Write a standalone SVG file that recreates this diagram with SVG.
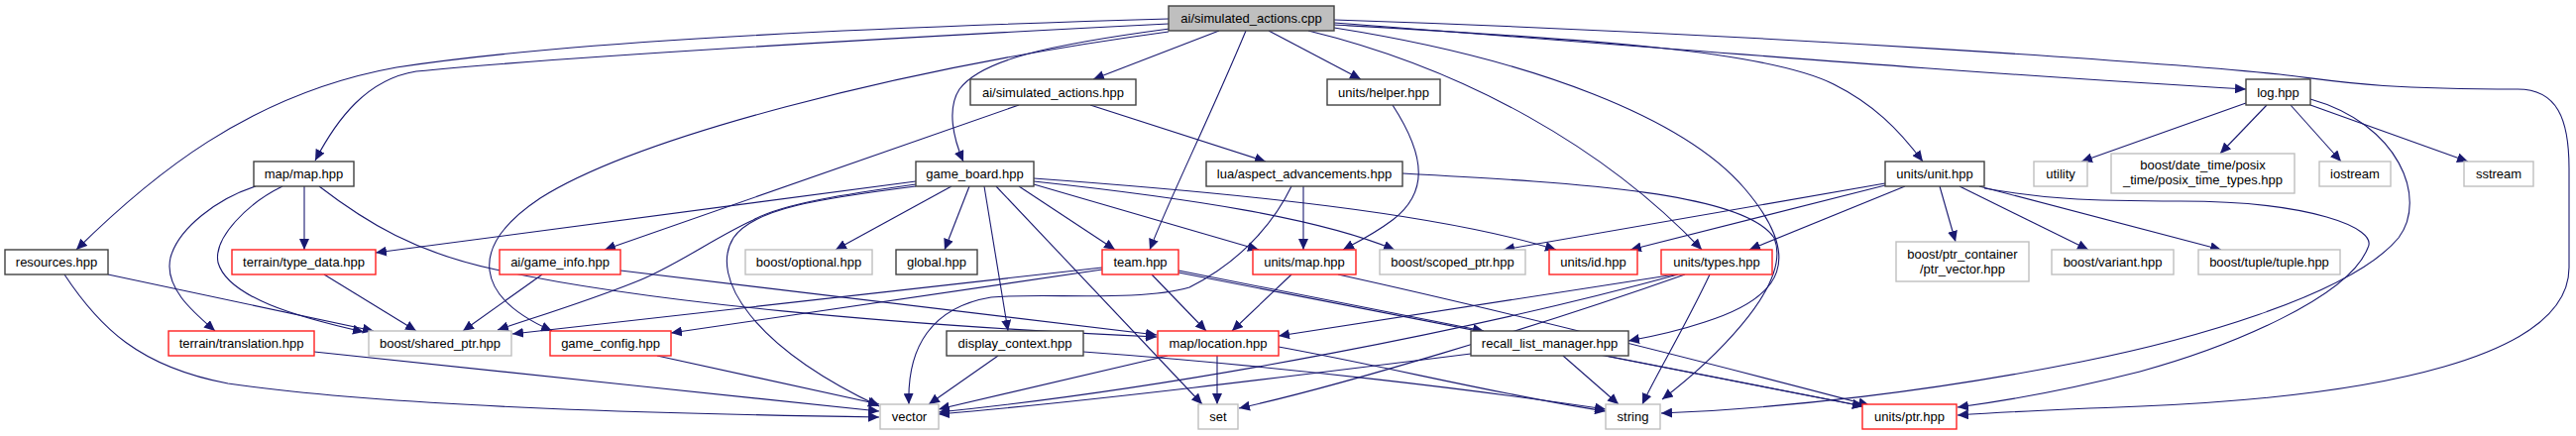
<svg xmlns="http://www.w3.org/2000/svg" width="2599" height="440" viewBox="0 0 2599 440">
<defs>
<marker id="ah" markerUnits="userSpaceOnUse" markerWidth="12" markerHeight="10" refX="11" refY="5" orient="auto">
<path d="M0,0 L11,5 L0,10 z" fill="#191970"/>
</marker>
<style>
.n rect{fill:#fff;stroke-width:1.4}
.b rect{stroke:#404040}
.r rect{stroke:#ff2020}
.g rect{stroke:#bfbfbf}
.n text{font-family:"Liberation Sans",Arial,sans-serif;font-size:13px;fill:#000;text-anchor:middle}
#edges path{fill:none;stroke:#191970;stroke-width:1.1;marker-end:url(#ah)}
</style>
</defs>
<rect width="2599" height="440" fill="#fff"/>
<g id="edges">
<path d="M1230,31 L1103,80"/>
<path d="M1180,29 C1060,45 990,60 968,90 C955,110 962,140 972,163"/>
<path d="M1179,24 C900,38 560,58 420,72 C370,80 340,120 318,162"/>
<path d="M1179,19 C800,30 550,45 400,68 C250,95 150,180 77,252"/>
<path d="M1179,32 C900,70 640,140 545,200 C470,250 480,300 557,334"/>
<path d="M1280,31 L1373,80"/>
<path d="M1257,31 C1220,120 1180,200 1160,252"/>
<path d="M1320,31 C1480,70 1620,150 1717,252"/>
<path d="M1346,23 C1700,50 2000,75 2266,90"/>
<path d="M1346,25 C1600,40 1780,50 1850,85 C1890,105 1915,130 1940,163"/>
<path d="M1346,28 C1550,60 1700,120 1760,190 C1820,260 1800,300 1720,325 C1690,335 1665,340 1643,344"/>
<path d="M1346,20 C1800,35 2200,65 2300,75 C2360,82 2390,90 2540,90 C2580,90 2592,120 2592,170 L2592,270 C2592,360 2400,400 2160,410 C2080,413 2020,416 1975,419"/>
<path d="M1028,106 L610,252"/>
<path d="M1100,106 L1277,163"/>
<path d="M1405,106 C1440,160 1440,195 1405,222 C1385,237 1370,244 1355,252"/>
<path d="M2266,104 L2100,163"/>
<path d="M2287,106 L2240,155"/>
<path d="M2311,106 L2362,163"/>
<path d="M2331,106 L2490,163"/>
<path d="M2331,100 C2420,125 2450,200 2420,240 C2370,300 2200,345 2100,365 C1950,395 1800,412 1676,417"/>
<path d="M2002,190 C2060,200 2100,203 2200,203 C2330,203 2400,230 2389,250 C2370,300 2250,350 2159,375 C2080,395 2020,405 1975,411"/>
<path d="M1902,185 L1517,252"/>
<path d="M1902,187 L1645,252"/>
<path d="M1922,188 L1765,252"/>
<path d="M1957,188 L1973,244"/>
<path d="M1977,188 L2107,252"/>
<path d="M1997,188 L2241,252"/>
<path d="M924,183 L379,255"/>
<path d="M924,186 C860,195 790,205 760,222 C720,240 680,270 640,285 C590,305 540,320 502,333"/>
<path d="M924,188 C830,200 760,210 740,240 C715,280 760,350 887,410"/>
<path d="M960,188 L843,252"/>
<path d="M978,188 L953,252"/>
<path d="M993,188 L1017,334"/>
<path d="M1005,188 L1213,408"/>
<path d="M1028,188 L1125,252"/>
<path d="M1043,186 L1270,252"/>
<path d="M1043,183 C1200,200 1330,220 1407,252"/>
<path d="M1043,180 C1250,195 1450,215 1570,252"/>
<path d="M258,188 C220,200 180,230 172,260 C165,290 195,315 217,334"/>
<path d="M285,188 C250,205 215,240 220,265 C230,300 300,320 367,335"/>
<path d="M307,188 L307,252"/>
<path d="M322,188 C370,225 420,255 500,272 C650,305 900,328 1167,340"/>
<path d="M109,277 L377,334"/>
<path d="M65,277 C100,330 140,370 230,387 C400,412 700,418 887,421"/>
<path d="M327,277 L420,334"/>
<path d="M317,355 C500,375 700,395 887,415"/>
<path d="M547,277 L467,334"/>
<path d="M626,273 L1167,338"/>
<path d="M663,359 L887,408"/>
<path d="M1112,270 L517,337"/>
<path d="M1112,272 L677,336"/>
<path d="M1162,277 L1217,334"/>
<path d="M1189,273 L1497,334"/>
<path d="M1189,275 L1880,410"/>
<path d="M1303,277 L1243,334"/>
<path d="M1350,277 C1500,310 1700,360 1886,409"/>
<path d="M1007,359 L937,408"/>
<path d="M1093,355 C1300,370 1500,395 1620,413"/>
<path d="M1178,359 L947,413"/>
<path d="M1228,359 L1228,408"/>
<path d="M1290,350 C1400,370 1520,400 1620,415"/>
<path d="M1577,359 L1633,408"/>
<path d="M1484,357 C1300,380 1100,405 947,418"/>
<path d="M1620,359 L1880,410"/>
<path d="M1690,277 L1290,339"/>
<path d="M1693,277 C1500,330 1200,390 947,416"/>
<path d="M1700,277 C1550,330 1350,390 1250,412"/>
<path d="M1725,277 C1700,330 1670,380 1657,408"/>
<path d="M1315,188 L1315,252"/>
<path d="M1303,188 C1290,215 1260,260 1200,290 C1150,305 1050,295 1000,300 C940,310 915,350 917,408"/>
<path d="M1415,175 C1600,185 1760,195 1790,240 C1810,290 1720,370 1677,403"/>
</g>
<g id="n_root" class="n b"><rect x="1179" y="6" width="167" height="25" style="fill:#bfbfbf"/><text x="1262.5" y="23">ai/simulated_actions.cpp</text></g>
<g id="n_ash" class="n b"><rect x="979" y="80" width="167" height="26"/><text x="1062.5" y="97.5">ai/simulated_actions.hpp</text></g>
<g id="n_helper" class="n b"><rect x="1339" y="80" width="114" height="26"/><text x="1396" y="97.5">units/helper.hpp</text></g>
<g id="n_log" class="n b"><rect x="2266" y="80" width="65" height="26"/><text x="2298.5" y="97.5">log.hpp</text></g>
<g id="n_mapmap" class="n b"><rect x="256" y="163" width="101" height="25"/><text x="306.5" y="180">map/map.hpp</text></g>
<g id="n_gameboard" class="n b"><rect x="924" y="163" width="119" height="25"/><text x="983.5" y="180">game_board.hpp</text></g>
<g id="n_lua" class="n b"><rect x="1217" y="163" width="198" height="25"/><text x="1316" y="180">lua/aspect_advancements.hpp</text></g>
<g id="n_unit" class="n b"><rect x="1902" y="163" width="100" height="25"/><text x="1952" y="180">units/unit.hpp</text></g>
<g id="n_utility" class="n g"><rect x="2052" y="163" width="54" height="25"/><text x="2079" y="180">utility</text></g>
<g id="n_datetime" class="n g"><rect x="2130" y="155" width="185" height="40"/><text x="2222.5" y="171">boost/date_time/posix</text><text x="2222.5" y="186">_time/posix_time_types.hpp</text></g>
<g id="n_iostream" class="n g"><rect x="2340" y="163" width="72" height="25"/><text x="2376" y="180">iostream</text></g>
<g id="n_sstream" class="n g"><rect x="2486" y="163" width="70" height="25"/><text x="2521" y="180">sstream</text></g>
<g id="n_resources" class="n b"><rect x="5" y="252" width="104" height="25"/><text x="57" y="269">resources.hpp</text></g>
<g id="n_typedata" class="n r"><rect x="234" y="252" width="145" height="25"/><text x="306.5" y="269">terrain/type_data.hpp</text></g>
<g id="n_gameinfo" class="n r"><rect x="504" y="252" width="122" height="25"/><text x="565" y="269">ai/game_info.hpp</text></g>
<g id="n_optional" class="n g"><rect x="752" y="252" width="128" height="25"/><text x="816" y="269">boost/optional.hpp</text></g>
<g id="n_global" class="n b"><rect x="904" y="252" width="82" height="25"/><text x="945" y="269">global.hpp</text></g>
<g id="n_team" class="n r"><rect x="1112" y="252" width="77" height="25"/><text x="1150.5" y="269">team.hpp</text></g>
<g id="n_unitsmap" class="n r"><rect x="1264" y="252" width="104" height="25"/><text x="1316" y="269">units/map.hpp</text></g>
<g id="n_scoped" class="n g"><rect x="1392" y="252" width="147" height="25"/><text x="1465.5" y="269">boost/scoped_ptr.hpp</text></g>
<g id="n_id" class="n r"><rect x="1563" y="252" width="89" height="25"/><text x="1607.5" y="269">units/id.hpp</text></g>
<g id="n_types" class="n r"><rect x="1676" y="252" width="112" height="25"/><text x="1732" y="269">units/types.hpp</text></g>
<g id="n_ptrvec" class="n g"><rect x="1913" y="244" width="134" height="40"/><text x="1980" y="261">boost/ptr_container</text><text x="1980" y="276">/ptr_vector.hpp</text></g>
<g id="n_variant" class="n g"><rect x="2070" y="252" width="123" height="25"/><text x="2131.5" y="269">boost/variant.hpp</text></g>
<g id="n_tuple" class="n g"><rect x="2218" y="252" width="143" height="25"/><text x="2289.5" y="269">boost/tuple/tuple.hpp</text></g>
<g id="n_translation" class="n r"><rect x="170" y="334" width="147" height="25"/><text x="243.5" y="351">terrain/translation.hpp</text></g>
<g id="n_shared" class="n g"><rect x="372" y="334" width="144" height="25"/><text x="444" y="351">boost/shared_ptr.hpp</text></g>
<g id="n_gameconfig" class="n r"><rect x="555" y="334" width="122" height="25"/><text x="616" y="351">game_config.hpp</text></g>
<g id="n_display" class="n b"><rect x="955" y="334" width="138" height="25"/><text x="1024" y="351">display_context.hpp</text></g>
<g id="n_location" class="n r"><rect x="1168" y="334" width="122" height="25"/><text x="1229" y="351">map/location.hpp</text></g>
<g id="n_recall" class="n b"><rect x="1484" y="334" width="159" height="25"/><text x="1563.5" y="351">recall_list_manager.hpp</text></g>
<g id="n_vector" class="n g"><rect x="888" y="408" width="59" height="25"/><text x="917.5" y="425">vector</text></g>
<g id="n_set" class="n g"><rect x="1209" y="408" width="40" height="25"/><text x="1229" y="425">set</text></g>
<g id="n_string" class="n g"><rect x="1620" y="408" width="55" height="25"/><text x="1647.5" y="425">string</text></g>
<g id="n_ptr" class="n r"><rect x="1879" y="408" width="95" height="25"/><text x="1926.5" y="425">units/ptr.hpp</text></g>
</svg>
